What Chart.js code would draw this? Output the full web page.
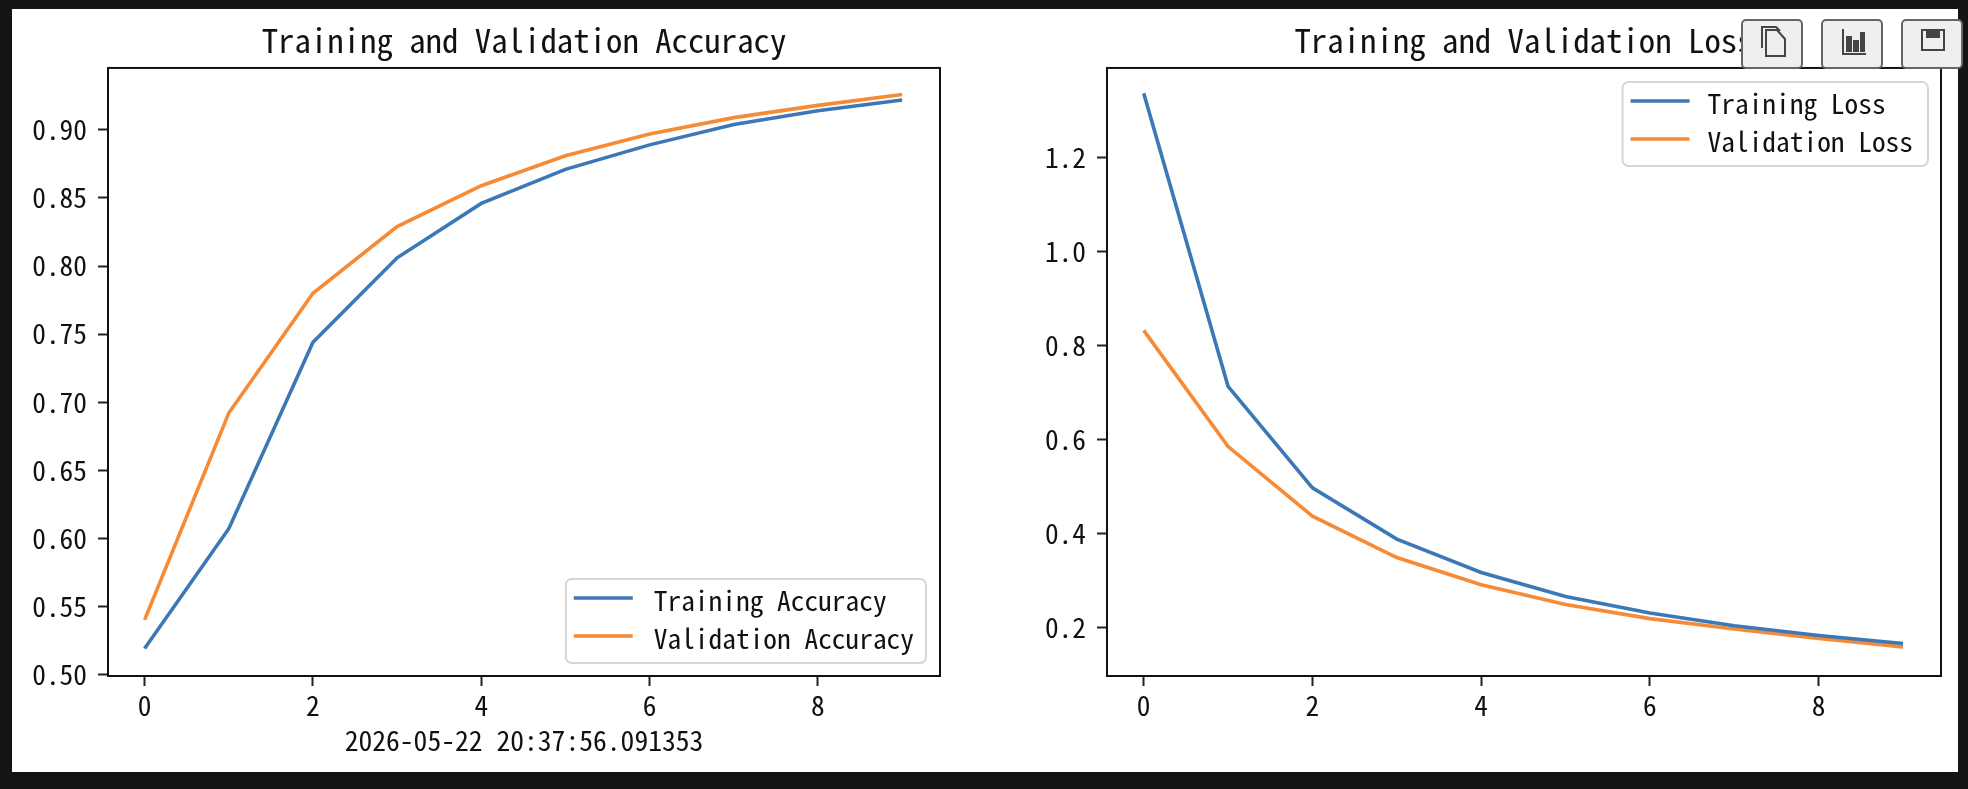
<!DOCTYPE html>
<html>
<head>
<meta charset="utf-8">
<title>Training curves</title>
<script src="https://cdn.jsdelivr.net/npm/chart.js@4/dist/chart.umd.js"></script>
<style>
  html, body { margin: 0; width: 1968px; height: 789px; background: #131416; overflow: hidden; }
  #sheet { position: absolute; left: 12px; top: 9px; width: 1946px; height: 763px; background: #fff; }
  canvas { position: absolute; top: 9px; filter: blur(0.5px); }
  #accuracy { left: 12px; }
  #loss { left: 984px; }
  .tool {
    position: absolute; top: 19px; width: 62px; height: 50px; box-sizing: border-box;
    background: #efefef; border: 2px solid #666; border-radius: 5px; padding: 0;
  }
  .tool svg { position: absolute; left: 14px; top: 3px; }
</style>
</head>
<body>
<div id="sheet"></div>
<canvas id="accuracy" width="972" height="763"></canvas>
<canvas id="loss" width="974" height="763"></canvas>
<button class="tool" style="left:1741px"><svg width="32" height="36" viewBox="0 0 32 36" fill="none" stroke="#444" stroke-width="2"><path d="M5 24V3h14l4 4"/><path d="M9 6h11l8 9v17H9z"/></svg></button>
<button class="tool" style="left:1821px"><svg width="32" height="36" viewBox="0 0 32 36" fill="#444" stroke="#444" stroke-width="2"><path d="M6 5v25h23" fill="none"/><rect x="10" y="13" width="4" height="14"/><rect x="17" y="17" width="4" height="10"/><rect x="24" y="9" width="3" height="18"/></svg></button>
<button class="tool" style="left:1901px"><svg width="32" height="36" viewBox="0 0 32 36" fill="none" stroke="#444" stroke-width="2"><path d="M5 6h22v20H5z"/><rect x="10" y="6" width="12" height="7" fill="#444"/></svg></button>
<script>
const epochs = [0, 1, 2, 3, 4, 5, 6, 7, 8, 9];
const trainAcc = [0.519, 0.607, 0.744, 0.806, 0.846, 0.871, 0.889, 0.904, 0.914, 0.922];
const valAcc = [0.540, 0.692, 0.780, 0.829, 0.859, 0.881, 0.897, 0.909, 0.918, 0.926];
const trainLoss = [1.336, 0.713, 0.497, 0.388, 0.317, 0.266, 0.231, 0.204, 0.183, 0.166];
const valLoss = [0.832, 0.585, 0.437, 0.349, 0.291, 0.249, 0.219, 0.197, 0.177, 0.159];
const xTicks = [0, 2, 4, 6, 8];
const accTicks = [0.50, 0.55, 0.60, 0.65, 0.70, 0.75, 0.80, 0.85, 0.90];
const lossTicks = [0.2, 0.4, 0.6, 0.8, 1.0, 1.2];

const FONT = "'Noto Sans Mono CJK SC', 'Noto Sans CJK SC', 'Liberation Mono', monospace";
const INK = '#111';
const BLUE = '#3b78b5';
const ORANGE = '#f68a35';

// matplotlib style box: frame on all four sides
const framePlugin = {
    id: 'frame',
    afterDatasetsDraw(chart) {
        const a = chart.chartArea, ctx = chart.ctx;
        ctx.save();
        ctx.strokeStyle = '#111';
        ctx.lineWidth = 2;
        ctx.strokeRect(a.left, a.top, a.right - a.left, a.bottom - a.top);
        ctx.restore();
    }
};

// legend sitting inside the axes, which the built-in one can't do
const insideLegend = {
    id: 'insideLegend',
    afterDraw(chart, args, opts) {
        const a = chart.chartArea, ctx = chart.ctx;
        const sets = chart.data.datasets;
        ctx.save();
        ctx.font = '27.4px ' + FONT;
        const textW = Math.max(...sets.map(d => ctx.measureText(d.label).width));
        const w = 88 + textW + 12, h = 84;
        const x = a.right - opts.insetRight - w;
        const y = opts.corner === 'top' ? a.top + opts.inset : a.bottom - opts.inset - h;
        ctx.beginPath();
        ctx.roundRect(x, y, w, h, 6);
        ctx.fillStyle = 'rgba(255,255,255,0.8)';
        ctx.fill();
        ctx.strokeStyle = '#d6d6d6';
        ctx.lineWidth = 2;
        ctx.stroke();
        sets.forEach((d, i) => {
            const rowY = y + 19 + i * 38;
            ctx.strokeStyle = d.borderColor;
            ctx.lineWidth = 3.6;
            ctx.beginPath();
            ctx.moveTo(x + 8, rowY);
            ctx.lineTo(x + 67, rowY);
            ctx.stroke();
            ctx.fillStyle = INK;
            ctx.textBaseline = 'middle';
            ctx.fillText(d.label, x + opts.textGap, rowY + 3);
        });
        ctx.restore();
    }
};

function makeChart(id, opt) {
    const toPoints = vals => vals.map((v, i) => ({x: epochs[i], y: v}));
    const line = (label, vals, color) => ({
        label: label,
        data: toPoints(vals),
        borderColor: color,
        backgroundColor: color,
        borderWidth: 3.6,
        pointRadius: 0,
        tension: 0,
    });
    return new Chart(document.getElementById(id), {
        type: 'line',
        data: { datasets: [line(opt.labels[0], opt.series[0], BLUE), line(opt.labels[1], opt.series[1], ORANGE)] },
        plugins: [framePlugin, insideLegend],
        options: {
            responsive: false,
            animation: false,
            devicePixelRatio: 1,
            layout: { autoPadding: false, padding: { left: 0, right: opt.padRight, top: 0, bottom: 0 } },
            scales: {
                x: {
                    type: 'linear',
                    min: -0.435,
                    max: 9.45,
                    afterFit: s => { s.height = 96; },
                    afterBuildTicks: s => { s.ticks = xTicks.map(v => ({value: v})); },
                    grid: { drawOnChartArea: false, tickLength: 10, tickWidth: 2, tickColor: '#222' },
                    border: { color: '#111', width: 2 },
                    ticks: { font: { family: FONT, size: 27.4 }, color: INK, padding: 3, maxRotation: 0, autoSkip: false },
                    title: {
                        display: !!opt.xlabel,
                        text: opt.xlabel,
                        font: { family: FONT, size: 27.6 },
                        color: INK,
                        padding: { top: 0, bottom: 15 },
                    },
                },
                y: {
                    min: opt.yMin,
                    max: opt.yMax,
                    afterFit: s => { s.width = opt.yWidth; },
                    afterBuildTicks: s => { s.ticks = opt.yTicks.map(v => ({value: v})); },
                    grid: { drawOnChartArea: false, tickLength: 10, tickWidth: 2, tickColor: '#222' },
                    border: { color: '#111', width: 2 },
                    ticks: {
                        font: { family: FONT, size: 27.4 },
                        color: INK,
                        padding: 11,
                        autoSkip: false,
                        callback: v => v.toFixed(opt.decimals),
                    },
                },
            },
            plugins: {
                title: {
                    display: true,
                    text: opt.title,
                    fullSize: false,
                    color: INK,
                    font: { family: FONT, size: 32.8, weight: 'normal', lineHeight: 1.2 },
                    padding: { top: 12, bottom: 7.6 },
                },
                legend: { display: false },
                tooltip: { enabled: false },
                insideLegend: opt.legend,
            },
        },
    });
}

makeChart('accuracy', {
    title: 'Training and Validation Accuracy',
    labels: ['Training Accuracy', 'Validation Accuracy'],
    series: [trainAcc, valAcc],
    yTicks: accTicks,
    decimals: 2,
    yMin: 0.4988,
    yMax: 0.9455,
    yWidth: 96,
    padRight: 44,
    xlabel: '2026-05-22 20:37:56.091353',
    legend: { corner: 'bottom', inset: 13, insetRight: 14, textGap: 88 },
});

makeChart('loss', {
    title: 'Training and Validation Loss',
    labels: ['Training Loss', 'Validation Loss'],
    series: [trainLoss, valLoss],
    yTicks: lossTicks,
    decimals: 1,
    yMin: 0.097,
    yMax: 1.39,
    yWidth: 123,
    padRight: 17,
    xlabel: '',
    legend: { corner: 'top', inset: 14, insetRight: 13, textGap: 85 },
});
</script>
</body>
</html>
